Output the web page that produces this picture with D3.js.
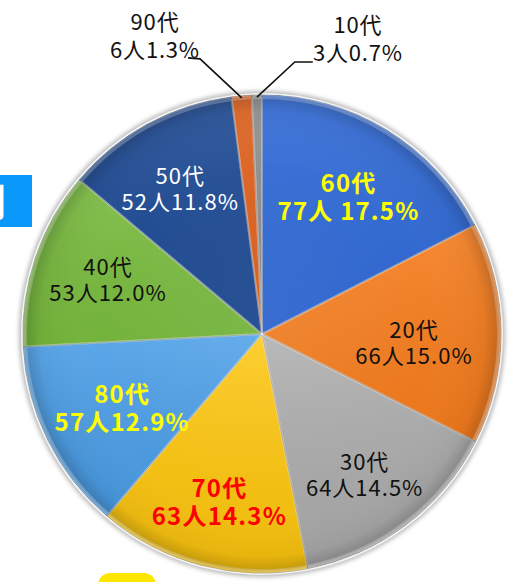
<!DOCTYPE html>
<html><head><meta charset="utf-8">
<script src="https://cdn.jsdelivr.net/npm/d3@7"></script>
<style>body{margin:0;background:#fff;overflow:hidden} svg{display:block}</style>
</head><body>
<svg id="c" width="520" height="582"></svg>
<script>
// ---- data ----
const categories = ["60代","20代","30代","70代","80代","40代","50代","90代","10代"];
const counts     = [77, 66, 64, 63, 57, 53, 52, 6, 3];
const percents   = ["17.5%","15.0%","14.5%","14.3%","12.9%","12.0%","11.8%","1.3%","0.7%"];
const separators = [" ", "", "", "", "", "", "", "", ""];

// ---- style / layout ----
const colors      = ["#2f6ad8","#f77d1d","#acacac","#fdc60e","#4b9ee7","#79bc3e","#1d4a95","#e0601c","#8e8e8e"];
const labelColors = ["#ffff00","#111111","#111111","#ff0000","#ffff00","#111111","#ffffff","#111111","#111111"];
const labelBold   = [true,false,false,true,true,false,false,false,false];
const labelR      = [166,152,170,168,156,165,171,0,0];
const labelDA     = [0,1.7,0,0,0,2.4,0,0,0];
const W = 520, H = 582, cx = 262, cy = 334, R = 239;
const FONT = "'Noto Sans CJK JP','Noto Sans',sans-serif";

const svg = d3.select("#c");
const defs = svg.append("defs");

const f = defs.append("filter").attr("id","blur").attr("x","-10%").attr("y","-10%").attr("width","120%").attr("height","120%");
f.append("feGaussianBlur").attr("stdDeviation",2);

const rg = defs.append("radialGradient").attr("id","rim").attr("gradientUnits","userSpaceOnUse")
  .attr("cx",0).attr("cy",0).attr("r",R);
rg.append("stop").attr("offset","0%").attr("stop-color","#fff").attr("stop-opacity",0.06);
rg.append("stop").attr("offset","70%").attr("stop-color","#fff").attr("stop-opacity",0.0);
rg.append("stop").attr("offset","93%").attr("stop-color","#000").attr("stop-opacity",0.04);
rg.append("stop").attr("offset","98%").attr("stop-color","#000").attr("stop-opacity",0.16);
rg.append("stop").attr("offset","100%").attr("stop-color","#fff").attr("stop-opacity",0.45);

const lg = defs.append("linearGradient").attr("id","shine").attr("x1",0).attr("y1",0).attr("x2",0).attr("y2",1);
lg.append("stop").attr("offset","0%").attr("stop-color","#fff").attr("stop-opacity",0.10);
lg.append("stop").attr("offset","100%").attr("stop-color","#000").attr("stop-opacity",0.05);

// blue box at left with cropped title
svg.append("rect").attr("x",-10).attr("y",175).attr("width",42).attr("height",52).attr("fill","#0a98fb");
svg.append("clipPath").attr("id","boxclip").append("rect").attr("x",0).attr("y",175).attr("width",32).attr("height",52);
svg.append("text").attr("clip-path","url(#boxclip)")
  .attr("x",6).attr("y",216).attr("text-anchor","end")
  .attr("font-family",FONT).attr("font-size",38).attr("font-weight","bold").attr("fill","#fff")
  .text("年代別");

// yellow shape at bottom
svg.append("rect").attr("x",98).attr("y",573).attr("width",58).attr("height",40).attr("rx",12).attr("fill","#ffe600");

const g = svg.append("g").attr("transform",`translate(${cx},${cy})`);

g.append("circle").attr("r",R+4).attr("fill","#b8b8b8").attr("filter","url(#blur)");
g.append("circle").attr("r",R+2).attr("fill","#f4f4f4");

const pie = d3.pie().sort(null).value(d => d).startAngle(0).endAngle(2*Math.PI);
const arcs = pie(counts);
const arc = d3.arc().innerRadius(0).outerRadius(R);

g.selectAll("path.slice").data(arcs).join("path")
  .attr("class","slice")
  .attr("d",arc)
  .attr("fill",(d,i)=>colors[i])
  .attr("stroke","rgba(0,0,0,0.35)").attr("stroke-width",1);

const arcIn = d3.arc().innerRadius(0).outerRadius(R-3);
g.selectAll("path.bevel").data(arcs).join("path")
  .attr("class","bevel")
  .attr("d",arcIn)
  .attr("fill","url(#shine)")
  .attr("stroke","rgba(255,255,255,0.25)").attr("stroke-width",2).attr("stroke-linejoin","round");

g.append("circle").attr("r",R).attr("fill","url(#rim)");

// labels in slices
arcs.forEach((d,i) => {
  if (!labelR[i]) return;
  const a = (d.startAngle + d.endAngle)/2 + labelDA[i]*Math.PI/180;
  const x = Math.sin(a)*labelR[i], y = -Math.cos(a)*labelR[i];
  const bold = labelBold[i];
  const t = g.append("text")
    .attr("text-anchor","middle")
    .attr("font-family",FONT)
    .attr("font-size", bold ? 24 : 22)
    .attr("letter-spacing", bold ? 1.2 : 1)
    .attr("font-weight", bold ? "bold" : "normal")
    .attr("fill",labelColors[i]);
  t.append("tspan").attr("x",x).attr("y",y).text(categories[i]);
  t.append("tspan").attr("x",x).attr("y",y + (bold ? 28 : 26)).text(counts[i] + "人" + separators[i] + percents[i]);
});

// small slices with leader lines
const spread = {7: -7.8, 8: 8.1};
arcs.forEach((d,i) => {
  if (labelR[i]) return;
  const a = (d.startAngle + d.endAngle)/2;
  const p0 = [Math.sin(a)*(R-2), -Math.cos(a)*(R-2)];
  const a2 = a + spread[i]*Math.PI/180;
  const rr = i === 7 ? 282 : 274;
  const p1 = [Math.sin(a2)*rr, -Math.cos(a2)*rr];
  const dir = Math.sin(a2) < 0 ? -1 : 1;
  const p2 = [p1[0] + dir*(i===7 ? 12 : 18), p1[1] - (i===7 ? 1 : 0)];
  g.append("path").attr("d", d3.line()([p0,p1,p2]))
    .attr("fill","none").attr("stroke","#111").attr("stroke-width",1.6);
  const tx = dir < 0 ? p1[0] - 45 : p1[0] + 63;
  const by = p1[1] - 1;
  const t = g.append("text").attr("text-anchor","middle").attr("font-family",FONT)
    .attr("font-size",22).attr("letter-spacing",0.8).attr("fill",labelColors[i]);
  t.append("tspan").attr("x",tx).attr("y",by-28).text(categories[i]);
  t.append("tspan").attr("x",tx).attr("y",by).text(counts[i] + "人" + separators[i] + percents[i]);
});
</script>
</body></html>
